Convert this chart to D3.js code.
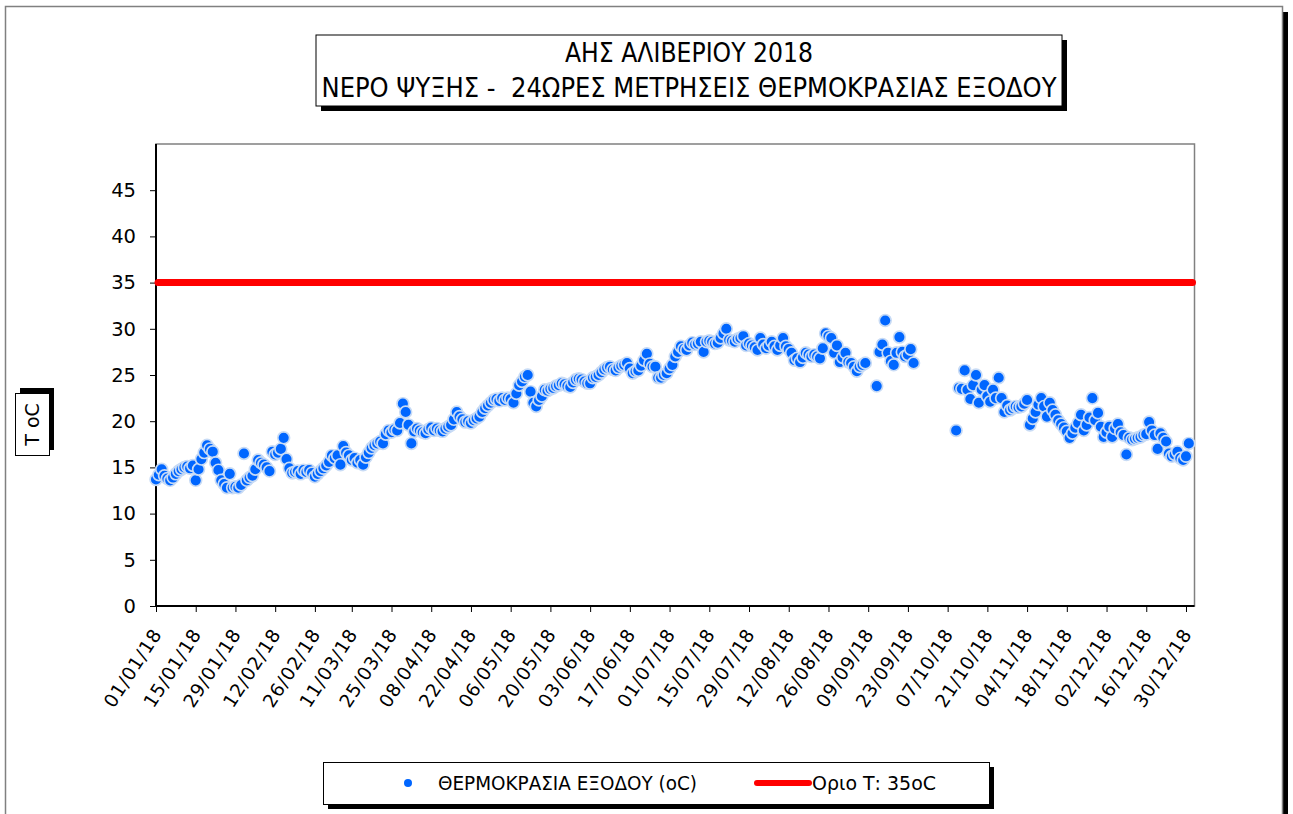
<!DOCTYPE html>
<html>
<head>
<meta charset="utf-8">
<script src="https://cdn.jsdelivr.net/npm/d3@7"></script>
<style>
body{margin:0;background:#fff;}
svg{display:block;}
text{font-family:"DejaVu Sans",sans-serif;fill:#000;}
</style>
</head>
<body>
<div id="chart"></div>
<script>
// chart texts
let titleLines = ['ΑΗΣ ΑΛΙΒΕΡΙΟΥ 2018', 'ΝΕΡΟ ΨΥΞΗΣ -  24ΩΡΕΣ ΜΕΤΡΗΣΕΙΣ ΘΕΡΜΟΚΡΑΣΙΑΣ ΕΞΟΔΟΥ'];
let yTitle = 'T oC';
let seriesNames = ['ΘΕΡΜΟΚΡΑΣΙΑ ΕΞΟΔΟΥ (oC)', 'Οριο Τ: 35oC'];

// one reading per day starting 01/01/2018, null = no reading
let startDay = '2018-01-01';
let tempOut = [
  13.7,14.2,14.8,14.1,13.8,13.6,13.9,14.3,14.6,14.8,
  15.0,15.1,14.9,15.2,13.6,14.8,15.9,16.6,17.4,17.0,
  16.7,15.5,14.7,13.6,13.2,12.8,14.3,12.8,12.9,12.8,
  13.1,16.5,13.6,13.9,14.1,14.8,15.8,15.5,15.3,15.0,
  14.6,16.7,16.4,16.6,17.0,18.2,15.9,14.9,14.4,14.5,
  14.6,14.3,14.7,14.5,14.7,14.4,14.0,14.3,14.6,14.9,
  15.2,15.6,16.3,16.0,16.3,15.3,17.3,16.6,16.3,15.8,
  16.0,15.5,15.8,15.3,16.1,16.6,17.1,17.4,17.6,17.8,
  17.6,18.6,19.0,18.8,19.1,19.0,19.8,21.9,21.0,19.6,
  17.6,18.9,19.2,19.0,18.8,18.7,19.1,19.3,19.0,19.2,
  19.0,18.9,19.2,19.4,19.6,20.2,21.0,20.5,20.2,19.9,
  20.0,19.8,20.1,20.3,20.5,21.0,21.4,21.7,22.0,22.3,
  22.4,22.2,22.5,22.3,22.5,22.4,22.0,23.0,23.9,24.3,
  24.8,25.0,23.2,22.0,21.6,22.3,22.7,23.4,23.3,23.5,
  23.6,23.8,23.9,24.1,24.0,23.8,23.7,24.2,24.5,24.6,
  24.5,24.3,24.1,24.1,24.7,24.8,25.0,25.3,25.6,25.8,
  25.9,25.6,25.5,25.8,26.0,26.1,26.3,25.7,25.2,25.4,
  25.5,26.0,26.6,27.3,26.2,25.9,25.9,24.7,24.7,25.0,
  25.2,25.7,26.1,27.0,27.5,28.1,27.8,27.7,28.2,28.5,
  28.3,28.4,28.6,27.5,28.6,28.7,28.6,28.4,28.5,29.0,
  29.5,30.0,28.8,28.7,28.6,28.9,29.0,29.2,28.2,28.4,
  28.2,28.0,27.7,29.0,28.3,27.9,28.2,28.6,28.1,27.7,
  28.2,29.0,28.1,27.8,27.4,26.6,26.8,26.4,26.9,27.4,
  27.2,27.0,27.2,27.0,26.8,27.9,29.5,29.2,29.0,27.4,
  28.2,26.4,26.9,27.4,26.4,26.3,25.9,25.4,25.9,26.1,
  26.3,null,null,null,23.8,27.5,28.3,30.9,27.4,26.5,
  26.1,27.4,29.1,27.5,27.0,27.2,27.8,26.3,null,null,
  null,null,null,null,null,null,null,null,null,null,
  null,null,19.0,23.6,23.5,25.5,23.4,22.4,23.9,25.0,
  22.0,23.4,23.9,22.7,22.1,23.4,22.5,24.7,22.5,21.0,
  21.7,21.2,21.4,21.6,21.5,21.6,21.9,22.3,19.6,20.3,
  21.0,21.8,22.5,21.6,20.5,22.0,21.2,20.7,20.1,19.7,
  19.3,18.9,18.2,18.7,19.3,19.8,20.7,19.0,19.6,20.4,
  22.5,20.1,20.9,19.4,18.3,18.8,19.4,18.3,19.2,19.7,
  18.8,18.5,16.4,18.2,18.0,18.1,18.2,18.3,18.5,18.6,
  19.9,19.0,18.5,17.0,18.7,18.2,17.8,16.5,16.2,16.4,
  16.7,16.0,15.8,16.2,17.6
];
let limitT = 35;
let yTicks = [0,5,10,15,20,25,30,35,40,45];
let xTickDays = ['2018-01-01','2018-01-15','2018-01-29','2018-02-12','2018-02-26','2018-03-11','2018-03-25',
  '2018-04-08','2018-04-22','2018-05-06','2018-05-20','2018-06-03','2018-06-17','2018-07-01','2018-07-15',
  '2018-07-29','2018-08-12','2018-08-26','2018-09-09','2018-09-23','2018-10-07','2018-10-21','2018-11-04',
  '2018-11-18','2018-12-02','2018-12-16','2018-12-30'];

let W = 1293, H = 814;
let pl = 156, pt = 144, pr = 1194.5, pb = 606;
let oneDay = 24*3600*1000;
let parse = d3.utcParse('%Y-%m-%d');
let day0 = parse(startDay);

let dtTemp = tempOut.map((v,i)=>({date:new Date(day0.getTime()+i*oneDay), value:v}))
    .filter(d=>d.value!==null);

let svg = d3.select('#chart').append('svg')
    .attr('width',W).attr('height',H);

svg.append('rect').attr('width',W).attr('height',H).attr('fill','#fff');

// outer frame with shadow
svg.append('rect').attr('x',1282).attr('y',12).attr('width',6).attr('height',H).attr('fill','#000');
svg.append('rect').attr('x',5.5).attr('y',6.5).attr('width',1277).attr('height',H+20)
    .attr('fill','#fff').attr('stroke','#808080').attr('stroke-width',1.5);

// scales
let x = d3.scaleUtc().domain([day0, new Date(day0.getTime()+366*oneDay)]).range([pl,pr]);
let y = d3.scaleLinear().domain([0,50]).range([pb,pt]);

// plot area
svg.append('rect').attr('x',pl).attr('y',pt).attr('width',pr-pl).attr('height',pb-pt)
    .attr('fill','#fff').attr('stroke','#808080').attr('stroke-width',1.5);

// y axis
let gy = svg.append('g').attr('transform','translate('+pl+',0)')
    .call(d3.axisLeft(y).tickValues(yTicks).tickSize(6).tickPadding(14));
gy.select('.domain').remove();
gy.selectAll('line').attr('stroke','#000');
gy.selectAll('text').attr('font-size','19.5px').attr('fill','#000');

// x axis
let gx = svg.append('g').attr('transform','translate(0,'+pb+')')
    .call(d3.axisBottom(x).tickValues(xTickDays.map(parse)).tickSize(6).tickFormat(d3.utcFormat('%d/%m/%y')));
gx.select('.domain').remove();
gx.selectAll('line').attr('stroke','#000');
gx.selectAll('text')
    .attr('font-size','18.5px').attr('fill','#000')
    .attr('letter-spacing','0.8px')
    .attr('y',0).attr('dy',0)
    .attr('text-anchor','end')
    .attr('transform','translate(6,28) rotate(-57)');

// axis lines
svg.append('line').attr('x1',pl).attr('x2',pl).attr('y1',pt).attr('y2',pb+0.5).attr('stroke','#000').attr('stroke-width',2);
svg.append('line').attr('x1',pl).attr('x2',pr).attr('y1',pb).attr('y2',pb).attr('stroke','#000').attr('stroke-width',2);

// limit line
svg.append('line')
    .attr('x1',x.range()[0]+2).attr('x2',x.range()[1]-2)
    .attr('y1',y(limitT)).attr('y2',y(limitT))
    .attr('stroke','#ff0000').attr('stroke-width',7).attr('stroke-linecap','round');

// readings
svg.append('g').selectAll('circle').data(dtTemp)
    .enter().append('circle')
    .attr('cx',d=>x(d.date)).attr('cy',d=>y(d.value))
    .attr('r',5.9)
    .attr('fill','#0066ff')
    .attr('stroke','#c8dbf5')
    .attr('stroke-width',1.7);

// title box
svg.append('rect').attr('x',321).attr('y',40).attr('width',746).attr('height',71).attr('fill','#000');
svg.append('rect').attr('x',316).attr('y',35).attr('width',746).attr('height',71)
    .attr('fill','#fff').attr('stroke','#000').attr('stroke-width',1);
let tLen = [248,735];
titleLines.forEach((t,i)=>{
    svg.append('text')
        .attr('x',689).attr('y',[62,97][i])
        .attr('text-anchor','middle')
        .attr('font-size','26px')
        .attr('textLength',tLen[i]).attr('lengthAdjust','spacingAndGlyphs')
        .style('white-space','pre')
        .text(t);
});

// y title box
svg.append('rect').attr('x',20).attr('y',388).attr('width',34).attr('height',62).attr('fill','#000');
svg.append('rect').attr('x',15.5).attr('y',393.5).attr('width',34).attr('height',62)
    .attr('fill','#fff').attr('stroke','#000').attr('stroke-width',1);
svg.append('text')
    .attr('transform','translate(39,424.5) rotate(-90)')
    .attr('text-anchor','middle')
    .attr('font-size','19px')
    .text(yTitle);

// legend
svg.append('rect').attr('x',328).attr('y',767).attr('width',666).attr('height',42).attr('fill','#000');
svg.append('rect').attr('x',323.5).attr('y',762.5).attr('width',666).attr('height',42)
    .attr('fill','#fff').attr('stroke','#000').attr('stroke-width',1);
svg.append('circle').attr('cx',408).attr('cy',783).attr('r',4).attr('fill','#0066ff');
svg.append('text').attr('x',438).attr('y',790).attr('font-size','19px')
    .attr('textLength',259).attr('lengthAdjust','spacingAndGlyphs')
    .text(seriesNames[0]);
svg.append('line').attr('x1',757).attr('x2',809).attr('y1',783).attr('y2',783)
    .attr('stroke','#ff0000').attr('stroke-width',6).attr('stroke-linecap','round');
svg.append('text').attr('x',812).attr('y',790).attr('font-size','19px')
    .attr('textLength',124).attr('lengthAdjust','spacingAndGlyphs')
    .text(seriesNames[1]);
</script>
</body>
</html>
